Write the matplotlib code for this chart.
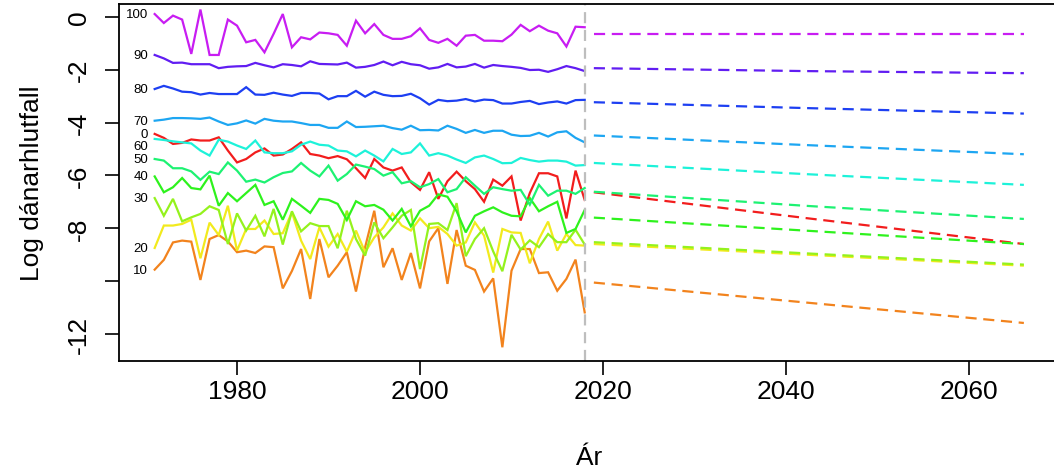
import matplotlib
matplotlib.use("Agg")
import matplotlib.pyplot as plt
import colorsys

plt.rcParams['font.family'] = ['Liberation Sans', 'DejaVu Sans']

years_obs = list(range(1971, 2019))
ages = [0, 10, 20, 30, 40, 50, 60, 70, 80, 90, 100]

m0 = [-4.43, -4.58, -4.81, -4.77, -4.64, -4.68, -4.68, -4.56, -5.06, -5.51, -5.38, -5.13, -4.98, -5.25, -5.21, -5.00,
      -4.75, -5.19, -5.25, -5.35, -5.27, -5.39, -5.73, -6.10, -5.38, -5.70, -5.82, -5.70, -6.26, -6.55, -5.88, -6.89,
      -6.22, -5.86, -6.22, -6.52, -7.00, -6.16, -6.39, -6.04, -7.71, -6.67, -5.92, -5.92, -6.04, -7.63, -5.82, -6.93]
m10 = [-9.57, -9.20, -8.54, -8.47, -8.51, -9.96, -8.41, -8.26, -8.50, -8.91, -8.85, -8.94, -8.69, -8.72, -10.28, -9.62,
       -8.79, -10.68, -8.41, -9.86, -9.42, -8.91, -10.40, -8.72, -7.34, -9.48, -8.76, -9.96, -8.94, -10.28, -8.50, -8.00,
       -10.11, -8.07, -9.42, -9.58, -10.40, -9.90, -12.51, -9.61, -8.79, -8.79, -9.70, -9.67, -10.37, -9.92, -9.19, -11.19]
m20 = [-8.75, -7.90, -7.90, -7.84, -7.68, -9.14, -7.79, -8.26, -7.15, -8.85, -8.03, -8.03, -7.71, -8.22, -8.19, -7.40,
       -8.47, -9.17, -7.97, -8.70, -8.22, -8.89, -8.09, -8.91, -8.35, -7.97, -7.44, -7.90, -8.09, -7.63, -8.00, -7.95,
       -8.22, -8.66, -8.54, -7.78, -8.28, -9.68, -8.03, -8.16, -8.18, -9.33, -8.41, -7.75, -8.85, -8.22, -8.64, -8.66]
m30 = [-6.86, -7.53, -6.89, -7.74, -7.59, -7.46, -7.17, -7.31, -8.60, -7.44, -8.09, -7.53, -8.31, -7.27, -8.62, -7.36,
       -8.12, -7.81, -7.92, -7.92, -8.76, -7.34, -8.41, -9.04, -7.78, -8.38, -7.97, -7.53, -7.31, -9.55, -7.84, -7.81,
       -8.07, -7.05, -9.06, -8.41, -8.00, -8.88, -9.63, -8.25, -8.81, -8.46, -8.72, -8.22, -8.53, -8.53, -8.06, -8.62]
m40 = [-6.04, -6.64, -6.45, -6.10, -6.48, -6.53, -6.01, -7.15, -6.67, -6.98, -6.67, -6.36, -7.12, -6.98, -7.68, -6.89,
       -7.15, -7.42, -6.89, -6.93, -7.08, -7.69, -6.98, -7.17, -7.12, -7.30, -7.71, -7.27, -7.93, -7.34, -7.15, -6.72,
       -6.81, -7.36, -8.16, -7.53, -7.36, -7.21, -7.40, -7.53, -7.55, -6.86, -7.36, -7.17, -7.00, -8.18, -8.03, -7.31]
m50 = [-5.38, -5.44, -5.73, -5.73, -5.85, -6.17, -5.86, -5.95, -5.51, -5.82, -6.24, -6.16, -6.27, -6.07, -5.91, -5.85,
       -5.53, -5.82, -6.04, -5.63, -6.20, -5.95, -5.59, -5.67, -5.76, -6.01, -5.88, -6.30, -6.22, -6.45, -6.33, -6.14,
       -6.64, -6.52, -6.07, -6.39, -6.70, -6.45, -6.52, -6.58, -6.55, -7.11, -6.36, -6.77, -6.58, -6.58, -6.70, -6.48]
m60 = [-4.62, -4.66, -4.71, -4.75, -4.79, -5.06, -5.25, -4.65, -4.72, -4.87, -5.00, -4.68, -5.13, -5.16, -5.16, -5.09,
       -4.84, -4.72, -4.84, -4.87, -5.06, -5.09, -5.28, -5.06, -5.25, -5.47, -5.00, -5.19, -5.13, -4.79, -5.25, -5.16,
       -5.25, -5.40, -5.53, -5.32, -5.25, -5.38, -5.54, -5.53, -5.34, -5.42, -5.48, -5.44, -5.44, -5.48, -5.63, -5.61]
m70 = [-3.93, -3.89, -3.83, -3.83, -3.84, -3.86, -3.81, -3.96, -4.09, -4.03, -3.92, -4.04, -3.86, -3.93, -3.96, -3.96,
       -4.02, -4.09, -4.09, -4.20, -4.20, -3.96, -4.17, -4.16, -4.14, -4.12, -4.21, -4.27, -4.12, -4.29, -4.28, -4.30,
       -4.12, -4.24, -4.39, -4.28, -4.39, -4.31, -4.31, -4.46, -4.51, -4.50, -4.39, -4.53, -4.37, -4.33, -4.58, -4.75]
m80 = [-2.73, -2.61, -2.71, -2.83, -2.85, -2.94, -2.88, -2.92, -2.92, -2.92, -2.66, -2.94, -2.95, -2.87, -2.94, -2.99,
       -2.88, -2.88, -2.90, -3.12, -3.00, -3.00, -2.80, -3.02, -2.83, -2.95, -3.00, -2.99, -2.91, -3.08, -3.32, -3.14,
       -3.19, -3.17, -3.11, -3.20, -3.13, -3.15, -3.28, -3.28, -3.22, -3.18, -3.30, -3.24, -3.20, -3.28, -3.15, -3.14]
m90 = [-1.44, -1.57, -1.74, -1.73, -1.79, -1.79, -1.79, -1.94, -1.89, -1.87, -1.86, -1.74, -1.83, -1.91, -1.79, -1.82,
       -1.87, -1.68, -1.78, -1.79, -1.80, -1.73, -1.92, -1.89, -1.82, -1.69, -1.83, -1.70, -1.79, -1.83, -1.96, -1.91,
       -1.78, -1.91, -1.88, -1.78, -1.92, -1.82, -1.86, -1.89, -1.93, -2.01, -2.00, -2.08, -1.98, -1.86, -1.94, -2.05]
m100 = [0.11, -0.23, 0.05, -0.10, -1.40, 0.28, -1.44, -1.44, -0.10, -0.33, -0.96, -0.87, -1.34, -0.64, 0.11, -1.15,
        -0.77, -0.85, -0.59, -0.62, -0.68, -1.09, -0.14, -0.62, -0.27, -0.68, -0.83, -0.83, -0.73, -0.43, -0.87, -0.98,
        -0.83, -1.09, -0.71, -0.68, -0.90, -0.90, -0.92, -0.67, -0.30, -0.54, -0.33, -0.52, -0.62, -1.12, -0.37, -0.39]

years_fc = [2019, 2042, 2066]
f0 = [-6.64, -7.61, -8.60]
f10 = [-10.06, -10.81, -11.59]
f20 = [-8.60, -9.00, -9.42]
f30 = [-8.53, -8.95, -9.38]
f40 = [-7.60, -8.09, -8.60]
f50 = [-6.62, -7.15, -7.65]
f60 = [-5.53, -5.95, -6.36]
f70 = [-4.49, -4.85, -5.20]
f80 = [-3.23, -3.45, -3.66]
f90 = [-1.94, -2.05, -2.13]
f100 = [-0.64, -0.64, -0.64]

obs = [m0, m10, m20, m30, m40, m50, m60, m70, m80, m90, m100]
fc = [f0, f10, f20, f30, f40, f50, f60, f70, f80, f90, f100]
label_nudge = {60: -0.25}

W, H = 1054, 477
fig = plt.figure(figsize=(W / 100, H / 100), dpi=100)
ax = fig.add_axes([119 / W, (H - 362) / H, (1059 - 119) / W, (362 - 5) / H])

for i, age in enumerate(ages):
    r, g, b = colorsys.hsv_to_rgb(i * 0.08, 0.88, 0.95)
    col = (r, g, b)
    ax.plot(years_obs, obs[i], color=col, lw=1.6, solid_joinstyle='miter')
    ax.plot(years_fc, fc[i], color=col, lw=1.6, dashes=(5, 3))
    ax.text(1970.3, obs[i][0] + label_nudge.get(age, 0), str(age), ha='right', va='center',
            fontsize=9.5)

ax.axvline(2018, color='#BEBEBE', lw=1.6, dashes=(5, 3))

ax.set_xlim(1967.1, 2069.84)
ax.set_ylim(-13.03, 0.49)
ax.set_xticks([1980, 2000, 2020, 2040, 2060])
ax.set_yticks([0, -2, -4, -6, -8, -10, -12])
ax.set_yticklabels(['0', '-2', '-4', '-6', '-8', '', '-12'], rotation=90, va='center')
ax.tick_params(axis='both', labelsize=19, length=10, width=1.2)
ax.tick_params(axis='y', pad=10)
ax.tick_params(axis='x', pad=3)
for s in ax.spines.values():
    s.set_linewidth(1.3)
ax.set_xlabel('Ár', fontsize=19, labelpad=30)
ax.set_ylabel('Log dánarhlutfall', fontsize=19, labelpad=17)

fig.savefig('out.png', dpi=100)
